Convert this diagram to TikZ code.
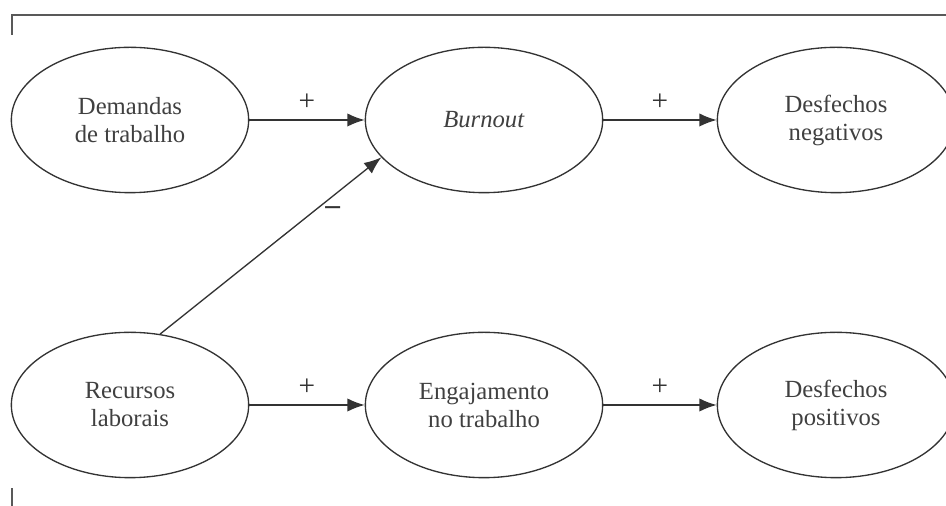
\documentclass[tikz,border=0pt]{standalone}
\usepackage{fontspec}
\setmainfont{Liberation Serif}
\usetikzlibrary{shapes.geometric,arrows.meta,positioning}

\begin{document}
\begin{tikzpicture}[x=0.75pt,y=0.75pt,
    construct/.style={ellipse, draw=black!80, line width=1pt, minimum width=178pt, minimum height=109pt,
      inner sep=0pt, align=center, text=black!75, font=\fontsize{18.5}{21}\selectfont},
    link/.style={draw=black!80, line width=1pt, -{Latex[length=13pt,width=10pt]}},
    sign/.style={text=black!80, font=\fontsize{22}{22}\selectfont}]
    \useasboundingbox (0,0) rectangle (946,506);
    \clip (0,0) rectangle (946,506);

    % Frame
    \draw[black!65, line width=1.3pt] (12,471) -- (12,491) -- (946,491);
    \draw[black!65, line width=1.3pt] (12,0) -- (12,18);

    % Top row
    \node[construct] (dem) at (130,386) {Demandas\\de trabalho};
    \node[construct] (burn) at (484,386) {\textit{Burnout}};
    \node[construct] (neg) at (836,386) {Desfechos\\negativos};

    % Bottom row
    \node[construct] (rec) at (130,101) {Recursos\\laborais};
    \node[construct] (eng) at (484,101) {Engajamento\\no trabalho};
    \node[construct] (pos) at (836,101) {Desfechos\\positivos};

    % Links
    \draw[link] (dem) -- node[sign, above=3pt] {+} (burn);
    \draw[link] (burn) -- node[sign, above=3pt] {+} (neg);
    \draw[link] (rec) -- node[sign, above=3pt] {+} (eng);
    \draw[link] (eng) -- node[sign, above=3pt] {+} (pos);
    \draw[link] (rec.67) -- node[sign, pos=0.75, xshift=5pt, yshift=-7pt] {\textbf{--}} (burn.200);
\end{tikzpicture}
\end{document}
